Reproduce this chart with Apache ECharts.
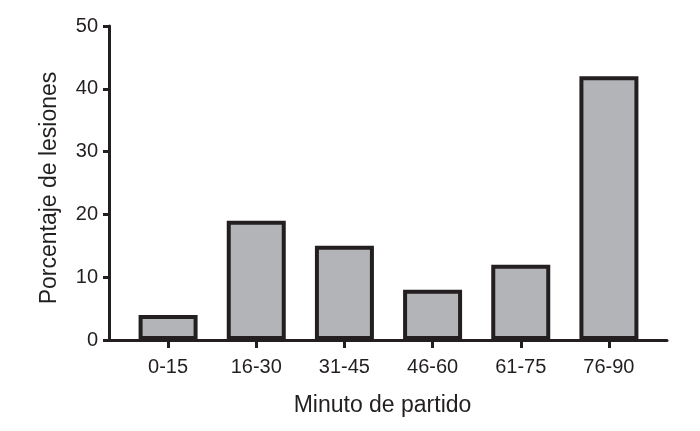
<!DOCTYPE html>
<html><head><meta charset="utf-8">
<script src="https://cdn.jsdelivr.net/npm/echarts@6/dist/echarts.min.js"></script>
<style>html,body{margin:0;padding:0;background:#fff}#c{width:700px;height:431px}</style>
</head><body><div id="c"></div>
<script>
const categories = ['0-15','16-30','31-45','46-60','61-75','76-90'];
const values = [4, 19, 15, 8, 12, 42];
const yTicks = [0, 10, 20, 30, 40, 50];
const xName = 'Minuto de partido';
const yName = 'Porcentaje de lesiones';

const font = 'Liberation Sans, Arial, Helvetica, sans-serif';
const ink = '#231f20';
const chart = echarts.init(document.getElementById('c'));
chart.setOption({
  animation: false,
  grid: [
    {left: 109, right: 33, top: 26, bottom: 91},
    {left: 124, right: 47, top: 26, bottom: 91}
  ],
  xAxis: [
    {gridIndex: 0, type: 'value', min: 0, max: 1,
     axisLine: {show: true, lineStyle: {color: ink, width: 3}},
     axisTick: {show: false}, axisLabel: {show: false}, splitLine: {show: false}},
    {gridIndex: 1, type: 'category', data: categories,
     name: xName, nameLocation: 'middle', nameGap: 54,
     nameTextStyle: {fontFamily: font, fontSize: 23, color: ink, padding: [0, 12, 0, 0]},
     axisLine: {show: false},
     axisTick: {show: true, alignWithLabel: true, length: 8, lineStyle: {color: ink, width: 3}},
     axisLabel: {margin: 17, fontFamily: font, fontSize: 20, color: ink},
     splitLine: {show: false}}
  ],
  yAxis: [
    {gridIndex: 0, type: 'value', min: yTicks[0], max: yTicks[yTicks.length-1], interval: 10,
     name: yName, nameLocation: 'middle', nameGap: 48,
     nameTextStyle: {fontFamily: font, fontSize: 23, color: ink, padding: [0, 10, 0, 0]},
     axisLine: {show: true, lineStyle: {color: ink, width: 3}},
     axisTick: {show: true, length: 6, lineStyle: {color: ink, width: 3}},
     axisLabel: {margin: 11, fontFamily: font, fontSize: 20, color: ink},
     splitLine: {show: false}},
    {gridIndex: 1, type: 'value', min: yTicks[0], max: yTicks[yTicks.length-1], show: false}
  ],
  series: [{
    type: 'bar', xAxisIndex: 1, yAxisIndex: 1, data: values, barWidth: 59,
    itemStyle: {color: '#b3b4b8', borderColor: ink, borderWidth: 4}
  }]
});
</script></body></html>
